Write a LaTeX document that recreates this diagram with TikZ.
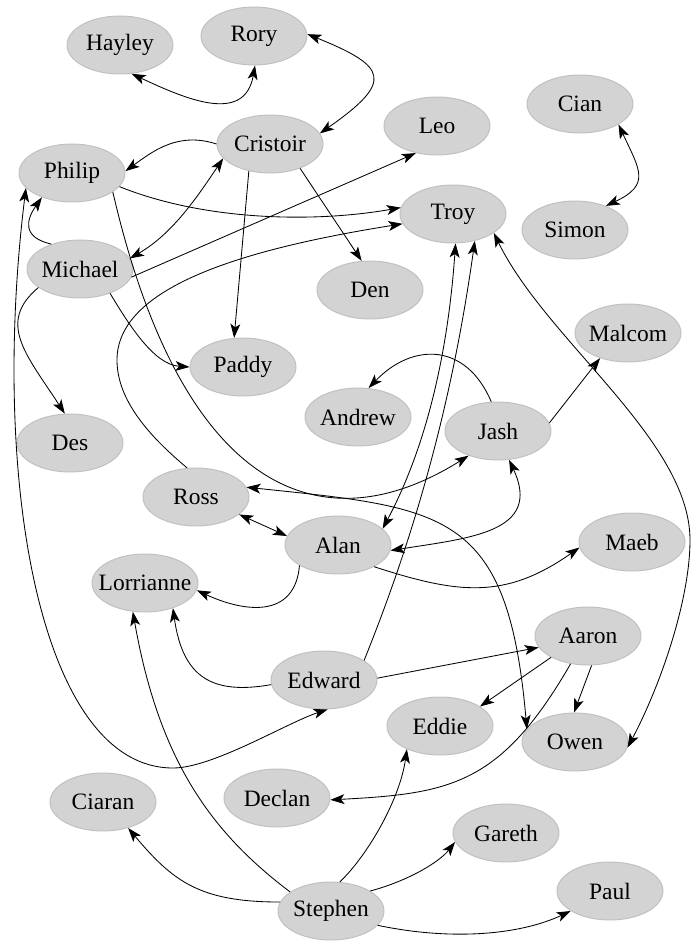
\documentclass[tikz,border=0pt]{standalone}
\usepackage{fontspec}
\setmainfont{Liberation Serif}
\usetikzlibrary{arrows.meta,shapes.geometric}
\definecolor{pfill}{RGB}{211,211,211}
\definecolor{pline}{RGB}{192,192,192}
\tikzset{
	person/.style={ellipse,fill=pfill,draw=pline,line width=.7pt,minimum width=2.65cm,minimum height=1.45cm,inner xsep=-8pt,inner ysep=0pt,font=\fontsize{16.7}{20}\selectfont},
	link/.style={line width=.6pt,>={Stealth[length=10pt,width=7pt,inset=2.5pt]}},
}
\begin{document}
\begin{tikzpicture}
				\useasboundingbox (0,0) rectangle (17.3,-23.575);
				\node[person] (hayley) at (3,-1.125){Hayley};
				\node[person] (rory) at (6.35,-.9){Rory};
				\node[person] (cristoir) at (6.75,-3.6){Cristoir};
				\node[person] (philip) at (1.8,-4.325){Philip};
				\node[person] (michael) at (2,-6.725){Michael};
				\node[person] (leo) at (10.925,-3.15){Leo};
				\node[person] (cian) at (14.5,-2.6){Cian};
				\node[person] (troy) at (11.325,-5.35){Troy};
				\node[person] (simon) at (14.375,-5.75){Simon};
				\node[person] (den) at (9.25,-7.25){Den};
				\node[person] (paddy) at (6.075,-9.175){Paddy};
				\node[person] (andrew) at (8.95,-10.425){Andrew};
				\node[person] (jash) at (12.45,-10.775){Jash};
				\node[person] (malcom) at (15.7,-8.325){Malcom};
				\node[person] (des) at (1.75,-11.075){Des};
				\node[person] (ross) at (4.9,-12.425){Ross};
				\node[person] (alan) at (8.45,-13.625){Alan};
				\node[person] (maeb) at (15.8,-13.55){Maeb};
				\node[person] (lorrianne) at (3.625,-14.575){Lorrianne};
				\node[person] (edward) at (8.1,-17){Edward};
				\node[person] (aaron) at (14.7,-15.9){Aaron};
				\node[person] (eddie) at (11,-18.15){Eddie};
				\node[person] (owen) at (14.375,-18.55){Owen};
				\node[person] (declan) at (6.925,-19.95){Declan};
				\node[person] (ciaran) at (2.575,-20.05){Ciaran};
				\node[person] (gareth) at (12.65,-20.825){Gareth};
				\node[person] (paul) at (15.25,-22.275){Paul};
				\node[person] (stephen) at (8.275,-22.775){Stephen};
				\begin{scope}[link]
				\draw [<->] (hayley.-68) .. controls +(-25:1.5) and +(-100:1.5) .. (rory.-88);
				\draw [<->] (rory.2) .. controls +(-22:2.15) and +(35:2.28) .. (cristoir.12);
				\draw [<->] (cian.-28) .. controls +(-65:1.25) and +(25:1.25) .. (simon.38);
				\draw [->] (cristoir.180) .. controls +(162:1) and +(36:.875) .. (philip.2);
				\draw [<->] (michael.12) .. controls +(30:1.25) and +(236:1.125) .. (cristoir.197);
				\draw [->] (michael.139) .. controls +(167:.75) and +(235:.7) .. (philip.219);
				\draw [<->] (philip.198) .. controls (-.25,-12) and (1,-19.2) .. (4.325,-19.2) .. controls +(1,0) and +(198:1.05) .. (edward.-83);
				\draw [->] (philip.-16) .. controls +(-22:2.25) and +(190:2.25) .. (troy.173);
				\draw [->] (philip.-25) .. controls +(-77:7.5) and +(212:4.5) .. (jash.220);
				\draw [->] (michael.-9) -- (leo.232);
				\draw [->] (michael.-39) .. controls +(-59:1) and +(176:.875) .. (paddy.180);
				\draw [->] (michael.204) .. controls +(220:1.375) and +(123:1.75) .. (des.100);
				\draw [->] (ross.107) .. controls +(140:1.25) and +(0,-1) .. (2.925,-9) .. controls +(0,1.75) and +(189:4.3) .. (troy.191);
				\draw [->] (cristoir.232) -- (paddy.107);
				\draw [->] (cristoir.-39) -- (den.106);
				\draw [<->] (troy.-85) .. controls +(-94:2.5) and +(62:2.5) .. (alan.20);
				\draw [->] (edward.26) .. controls +(68:3.75) and +(262:3.75) .. (troy.-51);
				\draw [<->] (troy.-25) .. controls +(-64:3) and +(0,2.5) .. (17.25,-13.5) .. controls +(0,-1.5) and +(62:1.75) .. (owen.-6);
				\draw [->] (jash.103) .. controls +(113:1.6) and +(46:1.6) .. (andrew.70);
				\draw [->] (jash.9) -- (malcom.222);
				\draw [<->] (jash.-69) .. controls +(-65:2) and +(9:2) .. (alan.-6);
				\draw [<->] (ross.-22) -- (alan.170);
				\draw [<->] (ross.11) .. controls +(-6:5) and +(95:5.5) .. (owen.165);
				\draw [->] (alan.208) .. controls +(265:1.375) and +(-25:1.25) .. (lorrianne.-8);
				\draw [->] (alan.-31) .. controls +(-18:2.25) and +(215:2.25) .. (maeb.186);
				\draw [->] (edward.185) .. controls +(190:1.5) and +(-82:1.75) .. (lorrianne.-42);
				\draw [->] (edward.2) -- (aaron.193);
				\draw [->] (aaron.210) -- (eddie.26);
				\draw [->] (aaron.-83) -- (owen.92);
				\draw [->] (aaron.238) .. controls +(240:3.5) and +(3:3) .. (declan.-2);
				\draw [->] (stephen.170) .. controls +(180:2) and +(-50:1.75) .. (ciaran.-46);
				\draw [->] (stephen.155) .. controls +(143:2.5) and +(-80:3.75) .. (lorrianne.-113);
				\draw [->] (stephen.73) .. controls +(44:1) and +(262:1.25) .. (eddie.215);
				\draw [->] (stephen.27) .. controls +(15:1) and +(232:.625) .. (gareth.190);
				\draw [->] (stephen.-17) .. controls +(-12:1.75) and +(205:1.5) .. (paul.207);
				\end{scope}
			\end{tikzpicture}
\end{document}
